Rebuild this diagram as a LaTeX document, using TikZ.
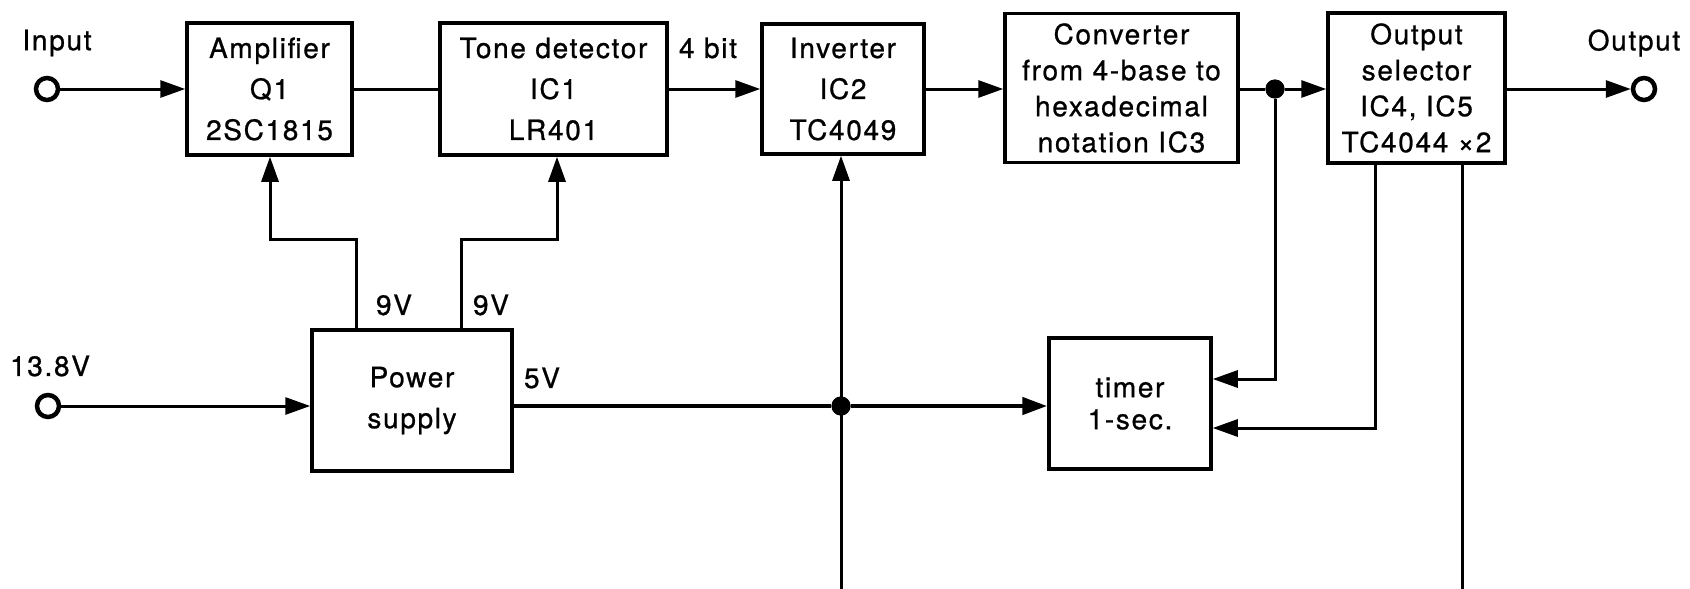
\documentclass[tikz,border=0pt]{standalone}
\usepackage{fontspec}
\setmainfont{TeX Gyre Heros}[LetterSpace=6,FakeBold=0.8]
\usetikzlibrary{arrows.meta}
\begin{document}
\begin{tikzpicture}[x=1pt,y=-1pt,
  box/.style={draw, line width=3.5pt, inner sep=0pt, align=center},
  wire/.style={line width=3pt},
  wirefat/.style={line width=4.5pt},
  arr/.style={-{Triangle[length=25pt,width=17pt]}},
  lbl/.style={inner sep=0pt, font=\fontsize{28}{32}\selectfont},
  jdot/.style={circle, fill, inner sep=0pt, minimum size=19pt},
  term/.style={circle, draw, line width=4.5pt, minimum size=22pt, inner sep=0pt}]
\useasboundingbox (0,0) rectangle (1690,589);

% blocks
\node[box, minimum width=165pt, minimum height=132pt, font=\fontsize{28}{41}\selectfont] (amp) at (269.5,89) {Amplifier\\Q1\\2SC1815};
\node[box, minimum width=227pt, minimum height=132pt, font=\fontsize{28}{41}\selectfont] (tone) at (553.5,89) {Tone detector\\IC1\\LR401};
\node[box, minimum width=162pt, minimum height=130pt, font=\fontsize{28}{41}\selectfont] (inv) at (843,89) {Inverter\\IC2\\TC4049};
\node[box, minimum width=233pt, minimum height=149pt, font=\fontsize{28}{36}\selectfont] (conv) at (1121.5,88) {Converter\\from 4-base to\\hexadecimal\\notation IC3};
\node[box, minimum width=177pt, minimum height=150pt, font=\fontsize{28}{36}\selectfont] (sel) at (1416.5,88) {Output\\selector\\IC4, IC5\\TC4044 ×2};
\node[box, minimum width=200pt, minimum height=141pt, font=\fontsize{28}{41}\selectfont] (pwr) at (412,400.5) {Power\\supply};
\node[box, minimum width=162pt, minimum height=131pt, font=\fontsize{28}{32}\selectfont] (timer) at (1130,403.5) {timer\\1-sec.};

% terminals
\node[term] (in) at (47,89) {};
\node[term] (out) at (1644,89) {};
\node[term] (vin) at (48,406) {};

% junctions
\node[jdot] (j1) at (1275,89) {};
\node[jdot] (j2) at (841,406) {};

% free ends and bends
\coordinate (cb1) at (841,589);
\coordinate (cb2) at (1462,589);
\coordinate (k1) at (270,239);
\coordinate (k2) at (557,239);

% labels
\node[lbl] (linput) at (57,43) {Input};
\node[lbl] (loutput) at (1634,43) {Output};
\node[lbl] (lvin) at (50,366) {13.8V};
\node[lbl] (l9a) at (394,305) {9V};
\node[lbl] (l9b) at (491,305) {9V};
\node[lbl] (l5) at (542,378) {5V};
\node[lbl] (l4bit) at (708,48) {4 bit};

% signal path
\draw[wire,arr] (in) -- (amp.west);
\draw[wire] (amp.east) -- (tone.west);
\draw[wire,arr] (tone.east) -- (inv.west);
\draw[wire,arr] (inv.east) -- (inv.east -| conv.west);
\draw[wire] (conv.east |- j1) -- (j1);
\draw[wire,arr] (j1) -- (j1 -| sel.west);
\draw[wire,arr] (sel.east |- out) -- (out);

% timer feeds
\draw[wire,arr] (j1) |- ([yshift=24.5pt]timer.east);
\draw[wire,arr] ([xshift=-41.5pt]sel.south) |- ([yshift=-24.5pt]timer.east);
\draw[wire] ([xshift=45.5pt]sel.south) -- (cb2);

% power
\draw[wire,arr] (vin) -- (pwr.west |- vin);
\draw[wirefat] (pwr.east |- j2) -- (j2);
\draw[wirefat,arr] (j2) -- (j2 -| timer.west);
\draw[wire,arr] (cb1) -- (cb1 |- inv.south);
\draw[wire,arr] ([xshift=-56pt]pwr.north) |- (k1) -- (k1 |- amp.south);
\draw[wire,arr] ([xshift=49pt]pwr.north) |- (k2) -- (k2 |- tone.south);

% redraw junction dots on top
\node[jdot] at (j1) {};
\node[jdot] at (j2) {};
\end{tikzpicture}
\end{document}
